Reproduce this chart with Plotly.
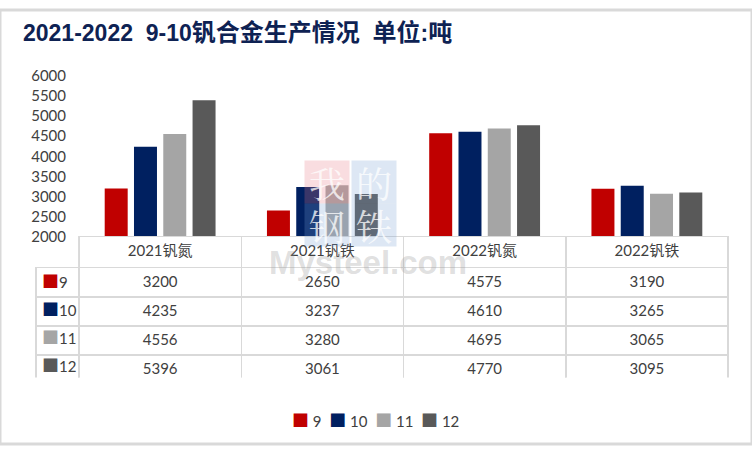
import plotly.graph_objects as go

W, H = 752, 452

categories = ["2021钒氮", "2021钒铁", "2022钒氮", "2022钒铁"]
months = ["9", "10", "11", "12"]
colors = ["#C00000", "#002060", "#A5A5A5", "#595959"]

# production per month (rows) for each category (columns)
m9 = [3200, 2650, 4575, 3190]
m10 = [4235, 3237, 4610, 3265]
m11 = [4556, 3280, 4695, 3065]
m12 = [5396, 3061, 4770, 3095]
series = [m9, m10, m11, m12]

y_ticks = [2000, 2500, 3000, 3500, 4000, 4500, 5000, 5500, 6000]

# the snapshot squeezes the page a little vertically, so pixel targets are corrected here
SY, OY = 0.963, 8.8


def px(x):
    return x / W


def py(y):
    return 1 - (y - OY) / SY / H


fig = go.Figure()

for name, vals, c in zip(months, series, colors):
    fig.add_trace(go.Bar(x=categories, y=vals, name=name, marker_color=c,
                         marker_line_width=0, showlegend=False))

# data table under the bars
cols = [[""] * len(months)] + [[s[i] for s in series] for i in range(len(categories))]
tfont = dict(family="Lato, Noto Sans CJK SC", size=15, color="#404040")

fig.add_trace(go.Table(
    domain=dict(x=[px(36), px(728)], y=[py(378), py(236)]),
    columnwidth=[43, 162, 162, 162, 162],
    header=dict(values=[""] + categories, height=30 / SY,
                fill_color=["rgba(0,0,0,0)"] + ["white"] * 4,
                line=dict(color=["rgba(0,0,0,0)"] + ["#D9D9D9"] * 4, width=1.5),
                font=tfont, align="center"),
    cells=dict(values=cols, height=28 / SY,
               fill_color=["rgba(0,0,0,0)"] + ["white"] * 4,
               line=dict(color="#D9D9D9", width=1.5),
               font=tfont, align="center"),
))

sq = '<span style="color:%s;font-size:17px">■</span>'

# row keys in the first table column
for i, (m, c) in enumerate(zip(months, colors)):
    fig.add_annotation(x=px(40), y=py(281 + 28 * i), xref="paper", yref="paper",
                       xanchor="left", yanchor="middle", showarrow=False,
                       text=(sq % c) + m, font=tfont)

# legend row at the bottom
legend_text = "\u00a0\u00a0".join((sq % c) + "\u00a0" + m for m, c in zip(months, colors))
fig.add_annotation(x=px(375), y=py(421), xref="paper", yref="paper", showarrow=False,
                   xanchor="center", yanchor="middle", text=legend_text, font=tfont)

# watermark
for t, x, y, bg in [("我", 327, 181, "rgba(230,120,130,0.25)"), ("的", 374, 181, "rgba(120,160,210,0.25)"),
                    ("钢", 327, 224, "rgba(120,160,210,0.25)"), ("铁", 374, 224, "rgba(120,160,210,0.25)")]:
    fig.add_annotation(x=px(x), y=py(y), xref="paper", yref="paper", text=t, showarrow=False,
                       xanchor="center", yanchor="middle",
                       font=dict(family="Noto Serif CJK SC, Noto Sans CJK SC", size=36,
                                 color="rgba(255,255,255,0.75)"),
                       bgcolor=bg, width=42, height=40)
fig.add_annotation(x=px(368), y=py(262), xref="paper", yref="paper", text="<b>Mysteel.com</b>",
                   showarrow=False, xanchor="center", yanchor="middle",
                   font=dict(family="Liberation Sans", size=33, color="rgba(150,150,150,0.3)"))

num = '<span style="font-family:Liberation Sans;font-size:23px">%s</span>'
title = ("<b>" + num % "2021-2022\u00a0\u00a09-10" + "钒合金生产情况"
         + num % "\u00a0\u00a0" + "单位" + num % ":" + "吨</b>")
fig.add_annotation(x=px(21), y=py(29), xref="paper", yref="paper", xanchor="left",
                   yanchor="middle", text=title, showarrow=False,
                   font=dict(family="Noto Sans CJK SC", size=24, color="#0E2253"))

fig.add_shape(type="rect", xref="paper", yref="paper", x0=0, y0=0, x1=1, y1=1,
              line=dict(color="#D9D9D9", width=3))

fig.update_layout(
    width=W, height=H,
    margin=dict(l=0, r=0, t=0, b=0),
    paper_bgcolor="white", plot_bgcolor="white",
    barmode="group", bargap=0.278, bargroupgap=0.215,
    showlegend=False,
    xaxis=dict(domain=[px(79), px(728)], showticklabels=False, showgrid=False,
               zeroline=False, showline=False),
    yaxis=dict(domain=[py(236), py(75)], range=[2000, 6000], tickvals=y_ticks,
               showgrid=False, zeroline=False, showline=False, ticklabelstandoff=12,
               tickfont=dict(family="Lato", size=15, color="#404040")),
)

page_css = ("var s=document.createElement('style');"
            "s.textContent='html,body{margin:0;padding:0;overflow:hidden}';"
            "document.head.appendChild(s);")
fig.write_html("out.html", config={"displayModeBar": False}, post_script=page_css)
